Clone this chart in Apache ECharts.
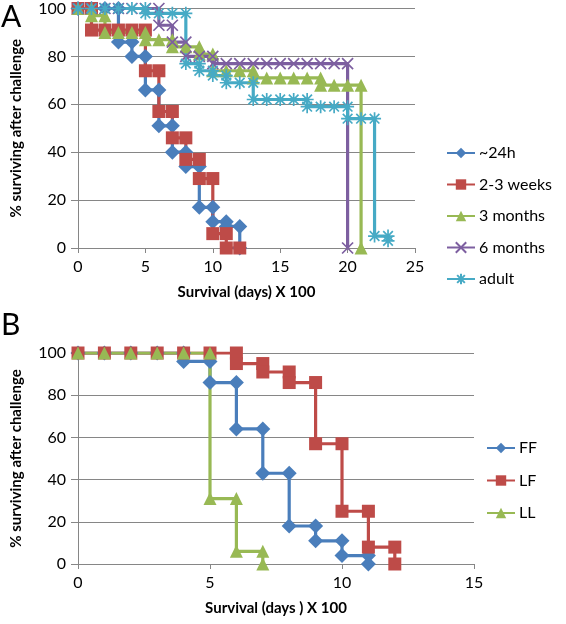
<!DOCTYPE html>
<html><head><meta charset="utf-8">
<script src="https://cdn.jsdelivr.net/npm/echarts@6/dist/echarts.min.js"></script>
<style>html,body{margin:0;padding:0;background:#fff}#c{width:566px;height:624px}</style>
</head><body><div id="c"></div>
<script>
// ---------- Panel A data (days x100, % surviving) ----------
const aNames = ['~24h', '2-3 weeks', '3 months', '6 months', 'adult'];
const aH24Days  = [0,1,2,3,3,4,4,5,5,6,6,7,7,8,8,9,9,10,10,11,11,12,12];
const aH24Surv  = [100,100,100,100,86,86,80,80,66,66,51,51,40,40,34,34,17,17,11,11,9,9,0];
const aW23Days  = [0,1,1,2,3,4,5,5,6,6,7,7,8,8,9,9,10,10,11,11,12];
const aW23Surv  = [100,100,91,91,91,91,91,74,74,57,57,46,46,37,37,29,29,6,6,0,0];
const aM3Days   = [0,1,1,2,2,3,4,5,5,6,7,7,8,9,9,10,10,11,12,13,13,14,15,16,17,18,18,19,20,21,21];
const aM3Surv   = [100,100,97,97,90,90,90,90,87,87,87,84,84,84,81,81,74,74,74,74,71,71,71,71,71,71,68,68,68,68,0];
const aM6Days   = [0,1,2,3,4,5,6,6,7,7,8,8,9,10,10,11,12,13,14,15,16,17,18,19,20,20];
const aM6Surv   = [100,100,100,100,100,100,100,93,93,86,86,80,80,80,77,77,77,77,77,77,77,77,77,77,77,0];
const aAdDays   = [0,1,2,3,4,5,5,6,7,8,8,9,9,10,10,11,11,12,13,13,14,15,16,17,17,18,19,20,20,21,22,22,23,23];
const aAdSurv   = [100,100,100,100,100,100,98,98,98,98,77,77,74,74,72,72,69,69,69,62,62,62,62,62,59,59,59,59,54,54,54,5,5,3];

// ---------- Panel B data ----------
const bNames = ['FF', 'LF', 'LL'];
const bFFDays = [0,1,2,3,4,4,5,5,6,6,7,7,8,8,9,9,10,10,11,11];
const bFFSurv = [100,100,100,100,100,96,96,86,86,64,64,43,43,18,18,11,11,4,4,0];
const bLFDays = [0,1,2,3,4,5,6,6,7,7,8,8,9,9,10,10,11,11,12,12];
const bLFSurv = [100,100,100,100,100,100,100,95,95,91,91,86,86,57,57,25,25,8,8,0];
const bLLDays = [0,1,2,3,4,5,5,6,6,7,7];
const bLLSurv = [100,100,100,100,100,100,31,31,6,6,0];

// ticks
const aXMax = 25, bXMax = 15, xStep = 5;
const yMax = 100, yStep = 20;

const pairs = (xs, ys) => xs.map((x, i) => [x, ys[i]]);

const C = {blue:'#4A7EBB', red:'#BE4B48', green:'#98B954', purple:'#7D5FA0', cyan:'#46AAC5'};
const X_PATH = 'path://M0,0L10,10M10,0L0,10';
const AST_PATH = 'path://M5,0L5,10M0,5L10,5M1.3,1.3L8.7,8.7M8.7,1.3L1.3,8.7';

function ser(name, data, color, symbol, size, gi, stroked) {
  return {
    name, type: 'line', data, xAxisIndex: gi, yAxisIndex: gi,
    symbol, symbolSize: size, showAllSymbol: true, animation: false,
    lineStyle: {color, width: 3.2},
    itemStyle: stroked ? {color: 'rgba(0,0,0,0)', borderColor: color, borderWidth: 1.7}
                       : {color, borderColor: color, borderWidth: 0},
    z: 2
  };
}

const FONT = 'Lato';
function xAx(gi, max) {
  return {
    gridIndex: gi, type: 'value', min: 0, max, interval: xStep,
    name: gi === 0 ? 'Survival (days) X 100' : 'Survival (days ) X 100',
    nameLocation: 'middle', nameGap: 37,
    nameTextStyle: {fontFamily: FONT, fontWeight: 'bold', fontSize: 15, color: '#000'},
    axisLine: {show: true, onZero: false, lineStyle: {color: '#868686', width: 1}},
    axisTick: {show: true, length: 5, lineStyle: {color: '#868686'}},
    axisLabel: {fontFamily: FONT, fontSize: 16, color: '#000', margin: 11},
    splitLine: {show: false}
  };
}
function yAx(gi) {
  return {
    gridIndex: gi, type: 'value', min: 0, max: yMax, interval: yStep,
    name: '% surviving after challenge', nameLocation: 'middle', nameGap: 54, nameRotate: 90,
    nameTextStyle: {fontFamily: FONT, fontWeight: 'bold', fontSize: 15, color: '#000'},
    axisLine: {show: true, lineStyle: {color: '#868686', width: 1}},
    axisTick: {show: true, length: 7, lineStyle: {color: '#868686'}},
    axisLabel: {fontFamily: FONT, fontSize: 16, color: '#000', margin: 12},
    splitLine: {show: true, lineStyle: {color: '#868686', width: 1}}
  };
}

const chart = echarts.init(document.getElementById('c'), null, {renderer: 'canvas'});
chart.setOption({
  backgroundColor: '#fff',
  animation: false,
  grid: [
    {left: 78, top: 8.5, width: 337, height: 239.5},
    {left: 78, top: 353, width: 396, height: 211}
  ],
  xAxis: [xAx(0, aXMax), xAx(1, bXMax)],
  yAxis: [yAx(0), yAx(1)],
  legend: [
    {data: aNames, orient: 'vertical', left: 446, top: 145, itemGap: 15.5, itemWidth: 28, itemHeight: 13,
     padding: 0, textStyle: {fontFamily: FONT, fontSize: 16, color: '#000', padding: [0, 0, 0, -1]}},
    {data: bNames, orient: 'vertical', left: 486, top: 440, itemGap: 16.5, itemWidth: 28, itemHeight: 13,
     padding: 0, textStyle: {fontFamily: FONT, fontSize: 16, color: '#000', padding: [0, 0, 0, -1]}}
  ],
  graphic: [
    {type: 'text', left: 1, top: 2, style: {text: 'A', font: '30px ' + FONT, fill: '#000'}},
    {type: 'text', left: 1, top: 310, style: {text: 'B', font: '30px ' + FONT, fill: '#000'}}
  ],
  series: [
    ser(aNames[0], pairs(aH24Days, aH24Surv), C.blue, 'diamond', 15, 0),
    ser(aNames[1], pairs(aW23Days, aW23Surv), C.red, 'rect', 13, 0),
    ser(aNames[2], pairs(aM3Days, aM3Surv), C.green, 'triangle', 13, 0),
    ser(aNames[3], pairs(aM6Days, aM6Surv), C.purple, X_PATH, 11, 0, true),
    ser(aNames[4], pairs(aAdDays, aAdSurv), C.cyan, AST_PATH, 13, 0, true),
    ser(bNames[0], pairs(bFFDays, bFFSurv), C.blue, 'diamond', 15, 1),
    ser(bNames[1], pairs(bLFDays, bLFSurv), C.red, 'rect', 13, 1),
    ser(bNames[2], pairs(bLLDays, bLLSurv), C.green, 'triangle', 13, 1)
  ]
});
</script></body></html>
